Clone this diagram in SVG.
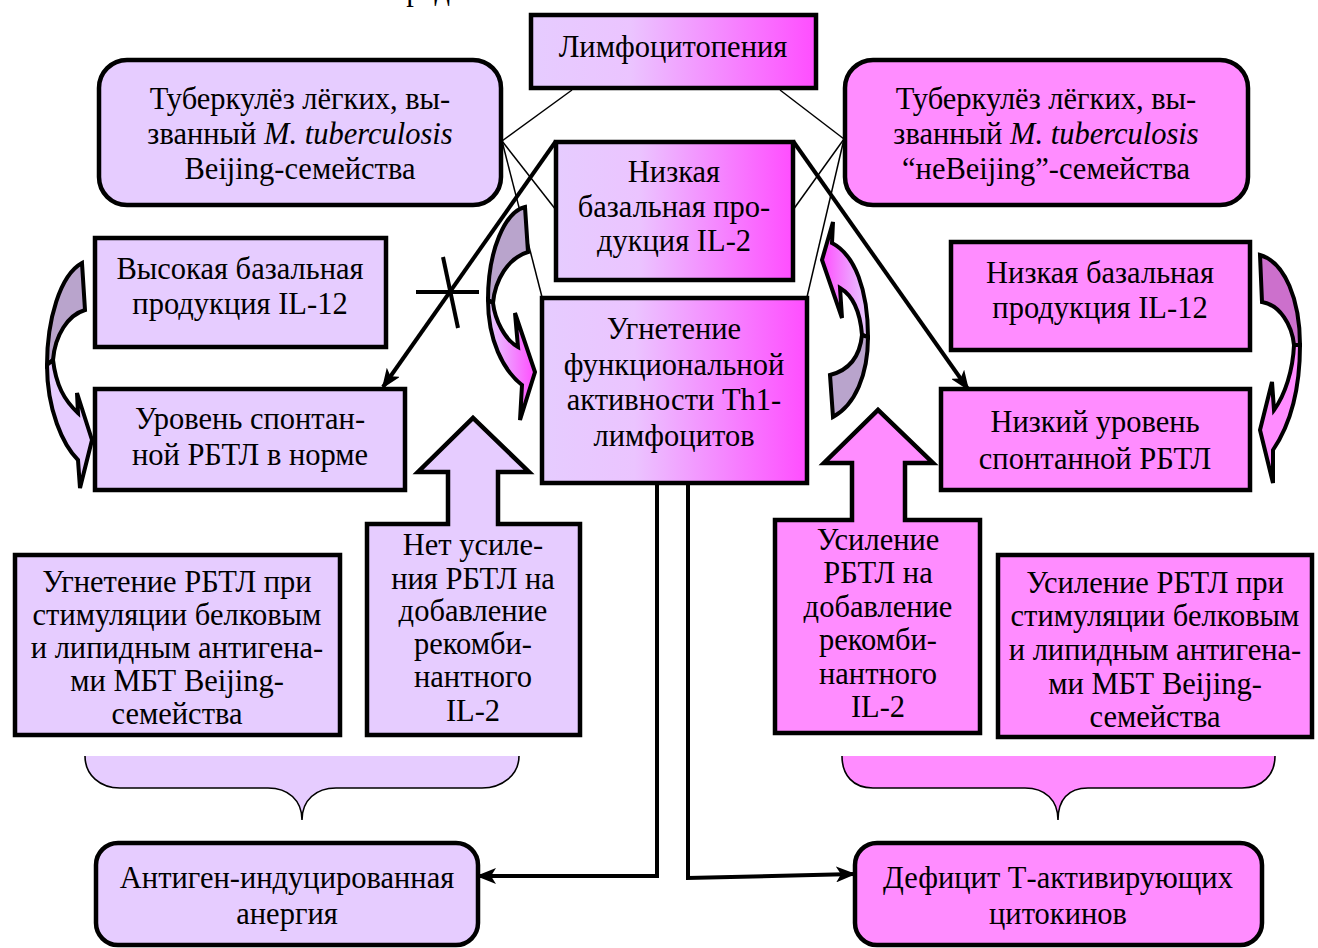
<svg xmlns="http://www.w3.org/2000/svg" width="1318" height="948" viewBox="0 0 1318 948">
<defs>
<linearGradient id="grad" x1="0" y1="0" x2="1" y2="0">
<stop offset="0" stop-color="#E6CCFF"/>
<stop offset="0.35" stop-color="#EBC4FF"/>
<stop offset="1" stop-color="#FF4DFF"/>
</linearGradient>
<linearGradient id="gradL" x1="0" y1="0" x2="1" y2="0">
<stop offset="0" stop-color="#E6CCFF"/>
<stop offset="1" stop-color="#FF4DFF"/>
</linearGradient>
<linearGradient id="gradR" x1="0" y1="0" x2="1" y2="0">
<stop offset="0" stop-color="#FF4DFF"/>
<stop offset="1" stop-color="#E6CCFF"/>
</linearGradient>
<marker id="ah" markerUnits="userSpaceOnUse" markerWidth="20" markerHeight="16" viewBox="0 0 20 16" refX="18" refY="8" orient="auto">
<path d="M0,0 L20,8 L0,16 L5,8 Z" fill="#000"/>
</marker>
<style>
.t{font-family:"Liberation Serif","Times New Roman",serif;font-size:30.5px;fill:#000;text-anchor:middle}
.lav{fill:#E6CCFF;stroke:#000;stroke-width:4.5}
.pink{fill:#FF8CFF;stroke:#000;stroke-width:4.5}
.grd{fill:url(#grad);stroke:#000;stroke-width:4.5}
.thin{stroke:#000;stroke-width:1.5;fill:none}
.thick{stroke:#000;stroke-width:4;fill:none}
.ca{stroke:#000;stroke-width:4;stroke-linejoin:miter}
.br{stroke:#000;stroke-width:1.6}
</style>
</defs>
<rect width="1318" height="948" fill="#fff"/>
<text class="t" x="420" y="0">пред</text>

<g id="connectors">
<line class="thin" x1="572" y1="90" x2="502" y2="141"/>
<line class="thin" x1="502" y1="141" x2="556" y2="210"/>
<line class="thin" x1="502" y1="141" x2="542" y2="297"/>
<line class="thin" x1="780" y1="90" x2="844" y2="139"/>
<line class="thin" x1="844" y1="139" x2="793" y2="210"/>
<line class="thin" x1="844" y1="139" x2="807" y2="297"/>
<line class="thick" x1="556" y1="141" x2="383" y2="387" marker-end="url(#ah)"/>
<line class="thick" x1="793" y1="141" x2="968" y2="389" marker-end="url(#ah)"/>
<line class="thick" x1="416" y1="292" x2="479" y2="292"/>
<line class="thick" x1="443" y1="257" x2="458" y2="328"/>
<polyline class="thick" points="657,483 657,876 478,876" marker-end="url(#ah)"/>
<polyline class="thick" points="688,483 688,878 854,874" marker-end="url(#ah)"/>
</g>

<g id="n-lymph">
<rect class="grd" x="531" y="15" width="285" height="73"/>
<text class="t" x="673" y="57">Лимфоцитопения</text>
</g>

<g id="n-tb-beijing">
<rect class="lav" x="99" y="60" width="402" height="145" rx="28"/>
<text class="t" x="300" y="109">Туберкулёз лёгких, вы-</text>
<text class="t" x="300" y="144">званный <tspan font-style="italic">M. tuberculosis</tspan></text>
<text class="t" x="300" y="179">Beijing-семейства</text>
</g>

<g id="n-tb-nonbeijing">
<rect class="pink" x="845" y="60" width="403" height="145" rx="28"/>
<text class="t" x="1046" y="109">Туберкулёз лёгких, вы-</text>
<text class="t" x="1046" y="144">званный <tspan font-style="italic">M. tuberculosis</tspan></text>
<text class="t" x="1046" y="179">“неBeijing”-семейства</text>
</g>

<g id="n-il2">
<rect class="grd" x="556" y="142" width="237" height="138"/>
<text class="t" x="674" y="182">Низкая</text>
<text class="t" x="674" y="217">базальная про-</text>
<text class="t" x="674" y="251">дукция IL-2</text>
</g>

<g id="n-th1">
<rect class="grd" x="542" y="298" width="265" height="185"/>
<text class="t" x="674" y="339">Угнетение</text>
<text class="t" x="674" y="375">функциональной</text>
<text class="t" x="674" y="410">активности Th1-</text>
<text class="t" x="674" y="446">лимфоцитов</text>
</g>

<g id="n-high-il12">
<rect class="lav" x="95" y="238" width="291" height="109"/>
<text class="t" x="240" y="279">Высокая базальная</text>
<text class="t" x="240" y="314">продукция IL-12</text>
</g>

<g id="n-rbtl-norm">
<rect class="lav" x="95" y="389" width="310" height="101"/>
<text class="t" x="250" y="429">Уровень спонтан-</text>
<text class="t" x="250" y="465">ной РБТЛ в норме</text>
</g>

<g id="n-low-il12">
<rect class="pink" x="951" y="242" width="299" height="108"/>
<text class="t" x="1100" y="283">Низкая базальная</text>
<text class="t" x="1100" y="318">продукция IL-12</text>
</g>

<g id="n-rbtl-low">
<rect class="pink" x="941" y="389" width="309" height="101"/>
<text class="t" x="1095" y="432">Низкий уровень</text>
<text class="t" x="1095" y="469">спонтанной РБТЛ</text>
</g>

<g id="n-supp-rbtl">
<rect class="lav" x="15" y="555" width="325" height="180"/>
<text class="t" x="177" y="592">Угнетение РБТЛ при</text>
<text class="t" x="177" y="625">стимуляции белковым</text>
<text class="t" x="177" y="658">и липидным антигена-</text>
<text class="t" x="177" y="691">ми МБТ Beijing-</text>
<text class="t" x="177" y="724">семейства</text>
</g>

<g id="n-no-enh">
<path class="lav" d="M367,524 L448,524 L448,472 L418,472 L473,418 L529,472 L498,472 L498,524 L580,524 L580,735 L367,735 Z"/>
<text class="t" x="473" y="555">Нет усиле-</text>
<text class="t" x="473" y="589">ния РБТЛ на</text>
<text class="t" x="473" y="621">добавление</text>
<text class="t" x="473" y="654">рекомби-</text>
<text class="t" x="473" y="687">нантного</text>
<text class="t" x="473" y="721">IL-2</text>
</g>

<g id="n-enh">
<path class="pink" d="M775,520 L852,520 L852,463 L824,463 L878,410 L933,463 L905,463 L905,520 L980,520 L980,733 L775,733 Z"/>
<text class="t" x="878" y="550">Усиление</text>
<text class="t" x="878" y="583">РБТЛ на</text>
<text class="t" x="878" y="617">добавление</text>
<text class="t" x="878" y="650">рекомби-</text>
<text class="t" x="878" y="684">нантного</text>
<text class="t" x="878" y="717">IL-2</text>
</g>

<g id="n-enh-rbtl">
<rect class="pink" x="998" y="555" width="314" height="182"/>
<text class="t" x="1155" y="593">Усиление РБТЛ при</text>
<text class="t" x="1155" y="626">стимуляции белковым</text>
<text class="t" x="1155" y="660">и липидным антигена-</text>
<text class="t" x="1155" y="694">ми МБТ Beijing-</text>
<text class="t" x="1155" y="727">семейства</text>
</g>

<g id="brace-left">
<path d="M85,756 L519,756 C519,775 502,788 482,788 L336,788 C316,788 302,800 302,820 C302,800 288,788 268,788 L120,788 C100,788 85,775 85,756 Z" fill="#E6CCFF"/>
<path class="br" fill="none" d="M85,756 C85,775 100,788 120,788 L268,788 C288,788 302,800 302,820 C302,800 316,788 336,788 L482,788 C502,788 519,775 519,756"/>
</g>
<g id="brace-right">
<path d="M842,756 L1275,756 C1275,775 1262,788 1242,788 L1088,788 C1068,788 1058,800 1058,820 C1058,800 1045,788 1025,788 L873,788 C853,788 842,775 842,756 Z" fill="#FF8CFF"/>
<path class="br" fill="none" d="M842,756 C842,775 853,788 873,788 L1025,788 C1045,788 1058,800 1058,820 C1058,800 1068,788 1088,788 L1242,788 C1262,788 1275,775 1275,756"/>
</g>

<g id="n-anergy">
<rect class="lav" x="96" y="843" width="382" height="102" rx="22"/>
<text class="t" x="287" y="888">Антиген-индуцированная</text>
<text class="t" x="287" y="924">анергия</text>
</g>

<g id="n-deficit">
<rect class="pink" x="855" y="843" width="407" height="102" rx="22"/>
<text class="t" x="1058" y="888">Дефицит Т-активирующих</text>
<text class="t" x="1058" y="924">цитокинов</text>
</g>

<g id="curved-left">
<path class="ca" fill="#B9A4CC" d="M82,263 C60,275 47,320 47,365 L53,360 C55,335 68,315 85,310 Z"/>
<path class="ca" fill="#E6CCFF" d="M47,365 C47,410 63,445 78,460 L80,488 L92,440 L77,393 L78,413 C64,400 56,385 53,360 Z"/>
</g>
<g id="curved-center-left">
<path class="ca" fill="#B9A4CC" d="M525,207 C505,212 488,250 488,300 L493,303 C495,280 508,258 528,252 Z"/>
<path class="ca" fill="url(#gradL)" d="M488,300 C488,340 503,370 522,385 L520,420 L535,372 L515,313 L518,347 C505,340 495,320 493,303 Z"/>
</g>
<g id="curved-center-right">
<path class="ca" fill="url(#gradR)" d="M833,222 L832,243 C855,255 868,290 868,337 L862,335 C860,310 852,295 840,288 L842,318 L822,260 Z"/>
<path class="ca" fill="#B9A4CC" d="M868,337 C868,375 855,405 833,417 L830,375 C850,370 860,355 862,335 Z"/>
</g>
<g id="curved-right">
<path class="ca" fill="#CC70CC" d="M1260,255 C1285,262 1300,300 1300,345 L1294,345 C1292,325 1280,305 1262,302 Z"/>
<path class="ca" fill="#FF8CFF" d="M1300,345 C1300,390 1290,425 1273,450 L1273,483 L1260,430 L1272,382 L1274,410 C1285,395 1293,370 1294,345 Z"/>
</g>
</svg>
